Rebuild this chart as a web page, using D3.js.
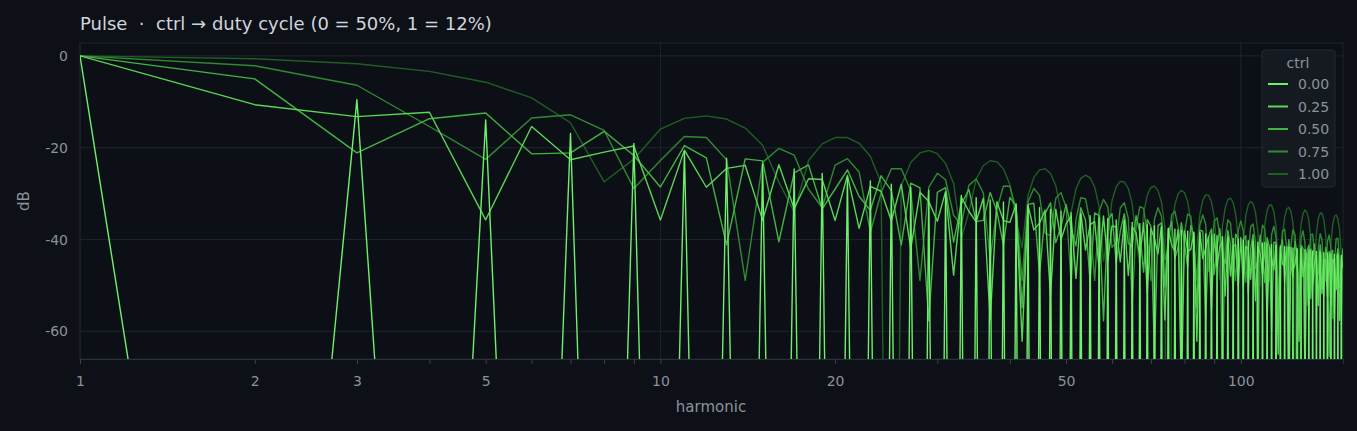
<!DOCTYPE html>
<html><head><meta charset="utf-8">
<script src="https://cdn.jsdelivr.net/npm/d3@7"></script>
<style>body{margin:0;background:#0d1017;}text{font-family:"DejaVu Sans",sans-serif;}</style>
</head><body><svg id="c" width="1357" height="431"></svg>
<script>
const ctrlValues=[0.00,0.25,0.50,0.75,1.00];
const dutyAtCtrl0=0.50, dutyAtCtrl1=0.12;
const harmonicCount=150;
const xTickLabels=[1,2,3,5,10,20,50,100];
const yTickLabels=[0,-20,-40,-60];
const colors=["#6ef06a","#5ad655","#43b443","#2f8a32","#1f5e24"];

const harmonics=d3.range(1,harmonicCount+1);
function spectrum(d){
  const a1=Math.abs(Math.sin(Math.PI*d));
  return harmonics.map(n=>{
    const a=Math.abs(Math.sin(Math.PI*n*d))/n/a1;
    return {n, db: 20*Math.log10(Math.max(a,1e-12))};
  });
}
const series=ctrlValues.map(c=>spectrum(dutyAtCtrl0+(dutyAtCtrl1-dutyAtCtrl0)*c));

const svg=d3.select("#c");
const L=80,R=1343,T=43,B=359;
const x=d3.scaleLog().domain([1,150]).range([L,R]);
const y=d3.scaleLinear().domain([-66,2.8]).range([B,T]);

svg.append("rect").attr("width",1357).attr("height",431).attr("fill","#0d1017");
svg.append("rect").attr("x",L).attr("y",T).attr("width",R-L).attr("height",B-T).attr("fill","#0c1016").attr("stroke","#1c222b");

const g=svg.append("g");
g.selectAll(".gy").data(yTickLabels).join("line").attr("x1",L).attr("x2",R)
 .attr("y1",d=>y(d)).attr("y2",d=>y(d)).attr("stroke","#1e242d");
g.selectAll(".gx").data([1,10,100]).join("line")
 .attr("x1",d=>x(d)).attr("x2",d=>x(d)).attr("y1",T).attr("y2",B).attr("stroke","#1e242d");

const xa=svg.append("g").attr("transform",`translate(0,${B})`)
 .call(d3.axisBottom(x).tickValues([1,2,3,4,5,6,7,8,9,10,20,30,40,50,60,70,80,90,100])
 .tickFormat(d=>xTickLabels.includes(d)?d:"").tickSize(5));
xa.select(".domain").attr("stroke","#2a303a");
xa.selectAll("line").attr("stroke","#3a414c");
xa.selectAll("text").attr("fill","#8b929c").attr("font-size",14).attr("dy","1.35em");

const ya=svg.append("g").attr("transform",`translate(${L},0)`)
 .call(d3.axisLeft(y).tickValues(yTickLabels).tickSize(0).tickPadding(12).tickFormat(d=>String(d)));
ya.select(".domain").remove();
ya.selectAll("text").attr("fill","#8b929c").attr("font-size",14);

svg.append("defs").append("clipPath").attr("id","cp").append("rect")
 .attr("x",L).attr("y",T).attr("width",R-L).attr("height",B-T);
const line=d3.line().x(d=>x(d.n)).y(d=>y(d.db));
const lg=svg.append("g").attr("clip-path","url(#cp)");
for(let i=series.length-1;i>=0;i--){
  lg.append("path").datum(series[i]).attr("d",line).attr("fill","none")
   .attr("stroke",colors[i]).attr("stroke-width",1.4).attr("stroke-linejoin","round");
}

svg.append("text").attr("x",80).attr("y",30).attr("fill","#d0d5dc").attr("font-size",18)
 .style("white-space","pre").text("Pulse  ·  ctrl → duty cycle (0 = 50%, 1 = 12%)");
svg.append("text").attr("x",711).attr("y",412).attr("text-anchor","middle").attr("fill","#8b929c").attr("font-size",15).text("harmonic");
svg.append("text").attr("transform",`translate(29,${(T+B)/2}) rotate(-90)`).attr("text-anchor","middle").attr("fill","#8b929c").attr("font-size",15).text("dB");

const leg=svg.append("g").attr("transform","translate(1262,50)");
leg.append("rect").attr("width",73).attr("height",137).attr("rx",3).attr("fill","#151a21").attr("stroke","#232932");
leg.append("text").attr("x",36).attr("y",18).attr("text-anchor","middle").attr("fill","#8b929c").attr("font-size",14).text("ctrl");
ctrlValues.forEach((c,i)=>{
  const yy=34+i*22.5;
  leg.append("line").attr("x1",6).attr("x2",26).attr("y1",yy).attr("y2",yy).attr("stroke",colors[i]).attr("stroke-width",2);
  leg.append("text").attr("x",36).attr("y",yy+5).attr("fill","#8b929c").attr("font-size",14).text(c.toFixed(2));
});
</script></body></html>
